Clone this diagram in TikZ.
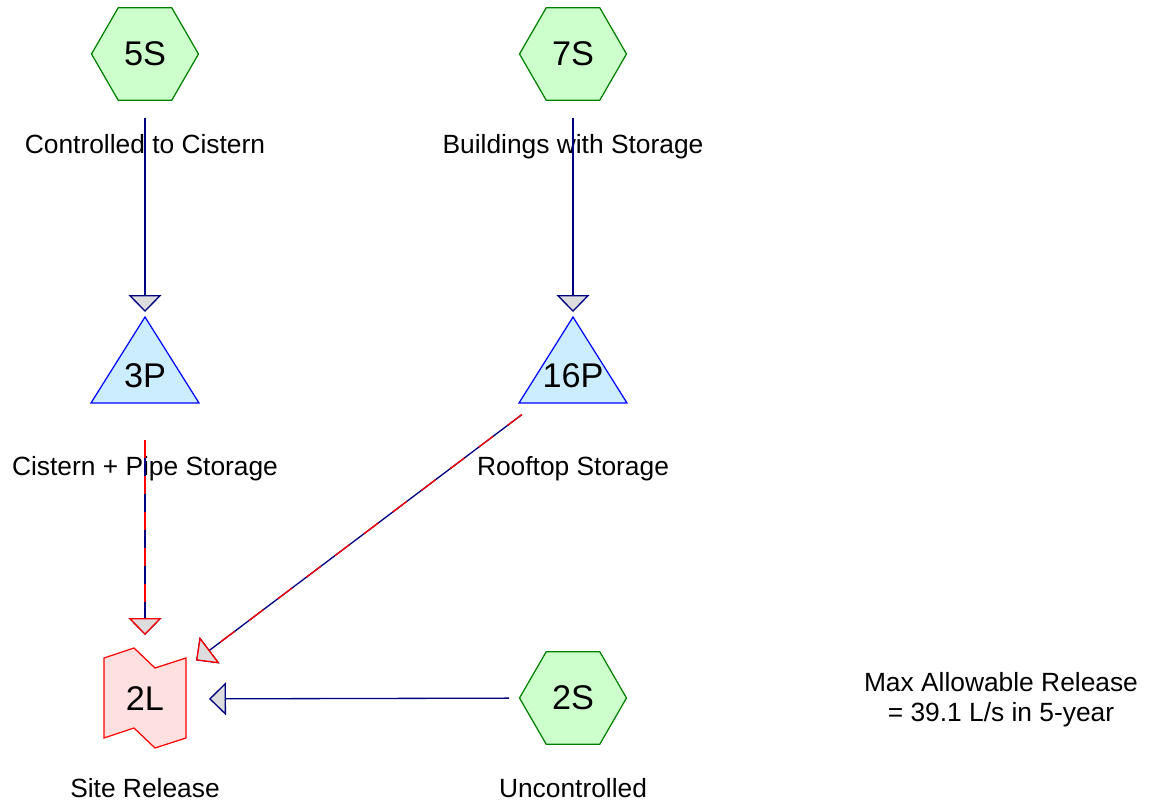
\documentclass[tikz,border=0pt]{standalone}
\usepackage{fontspec}
\setmainfont{Liberation Sans}
\definecolor{hcgreen}{RGB}{204,255,204}
\definecolor{hcdkgreen}{RGB}{0,128,0}
\definecolor{hcblue}{RGB}{204,236,255}
\definecolor{hcdkblue}{RGB}{0,0,255}
\definecolor{hcpink}{RGB}{255,224,224}
\definecolor{hcred}{RGB}{255,0,0}
\definecolor{hcnavy}{RGB}{0,0,128}
\definecolor{hcgray}{RGB}{221,221,221}
\usetikzlibrary{arrows.meta,positioning,shapes.geometric}

\begin{document}
\begin{tikzpicture}[x=0.02cm,y=-0.02cm,
  subcat/.style={regular polygon,regular polygon sides=6,minimum size=2.14cm,inner sep=0pt,
    fill=hcgreen,draw=hcdkgreen,line width=0.7pt,font=\fontsize{19.5}{22}\selectfont},
  pondbody/.style={fill=hcblue,draw=hcdkblue,line width=0.7pt},
  linkbody/.style={fill=hcpink,draw=hcred,line width=0.7pt},
  idtext/.style={inner sep=0pt,font=\fontsize{19.5}{22}\selectfont},
  tag/.style={inner sep=0pt,anchor=base,font=\fontsize{15}{17.6}\selectfont},
  flow/.style={draw=hcnavy,line width=0.75pt,shorten <=1.28cm,shorten >=1.28cm,
    -{Triangle[width=0.66cm,length=0.34cm,fill=hcgray]}},
  flowred/.style={flow,draw=hcred,dash pattern=on 0.36cm off 0.36cm}]
  \useasboundingbox (0,0) rectangle (1150,803);
  % Subcatchments
  \node[subcat] (n5S) at (145,54)  {5S};
  \node[subcat] (n7S) at (573,54)  {7S};
  \node[subcat] (n2S) at (573,698) {2S};
  % Ponds
  \draw[pondbody] (145,317) -- (199,403) -- (91,403) -- cycle;
  \draw[pondbody] (573,317) -- (627,403) -- (519,403) -- cycle;
  \node[idtext] (n3P)  at (145,376) {3P};
  \node[idtext] (n16P) at (573,376) {16P};
  % Link
  \draw[linkbody] (104,658) -- (134,648) -- (155,668) -- (186,658) -- (186,738)
    -- (155,748) -- (134,728) -- (104,738) -- cycle;
  \node[idtext] (n2L) at (145,699) {2L};
  % Labels
  \node[tag] (l5S)  at (145,154) {Controlled to Cistern};
  \node[tag] (l7S)  at (573,154) {Buildings with Storage};
  \node[tag] (l3P)  at (145,476) {Cistern + Pipe Storage};
  \node[tag] (l16P) at (573,476) {Rooftop Storage};
  \node[tag] (l2L)  at (145,797) {Site Release};
  \node[tag] (l2S)  at (573,797) {Uncontrolled};
  \node[tag,align=center] (lmax) at (1001,722) {Max Allowable Release\\= 39.1 L/s in 5-year};
  % Connectors
  \draw[flow] (n5S.center) -- (n3P.center);
  \draw[flow] (n7S.center) -- (n16P.center);
  \draw[flow] (n3P.center) -- (n2L.center);
  \draw[flowred] (n3P.center) -- (n2L.center);
  \draw[flow] (n16P.center) -- (n2L.center);
  \draw[flowred] (n16P.center) -- (n2L.center);
  \draw[flow] (n2S.center) -- (n2L.center);
\end{tikzpicture}
\end{document}
